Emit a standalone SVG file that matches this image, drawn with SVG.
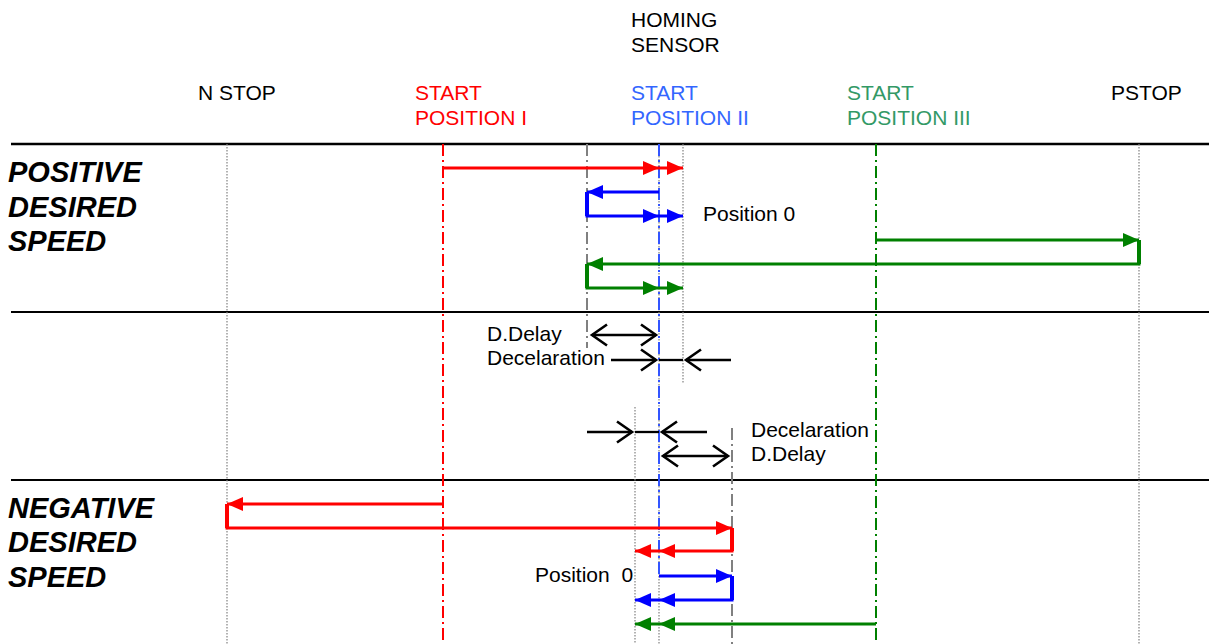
<svg xmlns="http://www.w3.org/2000/svg" width="1209" height="644" viewBox="0 0 1209 644">
<style>
text{font-family:"Liberation Sans",Arial,sans-serif;font-size:21px;fill:#000}
.big{font-size:29px;font-weight:bold;font-style:italic}
.red{fill:#ff0000}.blu{fill:#3366ff}.grn{fill:#339966}
.sep{stroke:#000;fill:none}
.dot{stroke:#808080;stroke-width:1.2;stroke-dasharray:1.5,1.5;fill:none}
.dd{stroke-width:2;stroke-dasharray:12,4,2,4;fill:none}
.ar{fill:none;stroke-width:3}
.v{fill:none;stroke-width:4}
.r{stroke:#ff0000}.b{stroke:#0000ff}.g{stroke:#008000}
.k{stroke:#000;stroke-width:2.3;fill:none}
</style>
<defs>
<marker id="mr" markerUnits="userSpaceOnUse" markerWidth="17" markerHeight="15" refX="16" refY="7.5" orient="auto"><path d="M0,0.5L16,7.5L0,14.5z" fill="#ff0000"/></marker>
<marker id="mb" markerUnits="userSpaceOnUse" markerWidth="17" markerHeight="15" refX="16" refY="7.5" orient="auto"><path d="M0,0.5L16,7.5L0,14.5z" fill="#0000ff"/></marker>
<marker id="mg" markerUnits="userSpaceOnUse" markerWidth="17" markerHeight="15" refX="16" refY="7.5" orient="auto"><path d="M0,0.5L16,7.5L0,14.5z" fill="#008000"/></marker>
<marker id="mk" markerUnits="userSpaceOnUse" markerWidth="20" markerHeight="26" refX="16" refY="13" orient="auto-start-reverse"><path d="M1,2.5L16,13L1,23.5" fill="none" stroke="#000" stroke-width="2.6"/></marker>
</defs>

<g id="labels">
<text x="631" y="27">HOMING</text>
<text x="631" y="52">SENSOR</text>
<text x="198" y="100">N STOP</text>
<text class="red" x="415" y="100">START</text>
<text class="red" x="415" y="125">POSITION I</text>
<text class="blu" x="631" y="100">START</text>
<text class="blu" x="631" y="125">POSITION II</text>
<text class="grn" x="847" y="100">START</text>
<text class="grn" x="847" y="125">POSITION III</text>
<text x="1111" y="100">PSTOP</text>
<text class="big" x="8" y="182">POSITIVE</text>
<text class="big" x="8" y="217">DESIRED</text>
<text class="big" x="8" y="251">SPEED</text>
<text class="big" x="8" y="518">NEGATIVE</text>
<text class="big" x="8" y="552">DESIRED</text>
<text class="big" x="8" y="587">SPEED</text>
<text x="703" y="221">Position 0</text>
<text x="487" y="341">D.Delay</text>
<text x="487" y="365">Decelaration</text>
<text x="751" y="437">Decelaration</text>
<text x="751" y="461">D.Delay</text>
<text x="535" y="582" xml:space="preserve">Position  0</text>
</g>

<g id="separators">
<path class="sep" stroke-width="2.5" d="M11,144H1209"/>
<path class="sep" stroke-width="2" d="M11,312H1209"/>
<path class="sep" stroke-width="2" d="M11,480H1209"/>
</g>

<g id="markers-lines">
<path class="dot" d="M227,144V644"/>
<path class="dot" d="M659,144V644"/>
<path class="dot" d="M683,144V384"/>
<path class="dot" d="M635,407V644"/>
<path class="dot" d="M1139,144V644"/>
<path class="dd" stroke="#ff0000" d="M443,144V644"/>
<path class="dd" stroke="#808080" d="M587,144V348"/>
<path class="dd" stroke="#3355ff" stroke-width="2" d="M659,144V576"/>
<path class="dd" stroke="#808080" d="M732,428V644"/>
<path class="dd" stroke="#008000" d="M876,144V644"/>
</g>

<g id="connectors">
<path class="ar r" d="M443,168H659" marker-end="url(#mr)"/>
<path class="ar r" d="M659,168H683" marker-end="url(#mr)"/>
<path class="ar b" d="M659,192H587" marker-end="url(#mb)"/>
<path class="ar b" d="M587,192V216H659" marker-end="url(#mb)"/>
<path class="v b" d="M587,192V216"/>
<path class="ar b" d="M659,216H683" marker-end="url(#mb)"/>
<path class="ar g" d="M876,240H1139" marker-end="url(#mg)"/>
<path class="ar g" d="M1139,240V264H587" marker-end="url(#mg)"/>
<path class="v g" d="M1139,240V264"/>
<path class="ar g" d="M587,264V288H659" marker-end="url(#mg)"/>
<path class="v g" d="M587,264V288"/>
<path class="ar g" d="M659,288H683" marker-end="url(#mg)"/>

<path class="k" d="M592,335H656" marker-start="url(#mk)" marker-end="url(#mk)"/>
<path class="k" d="M611,360H656" marker-end="url(#mk)"/>
<path class="k" stroke-width="1.5" d="M659,360H683"/>
<path class="k" d="M731,360H686" marker-end="url(#mk)"/>
<path class="k" d="M587,432H632" marker-end="url(#mk)"/>
<path class="k" stroke-width="1.5" d="M635,432H659"/>
<path class="k" d="M707,432H662" marker-end="url(#mk)"/>
<path class="k" d="M663,456H728" marker-start="url(#mk)" marker-end="url(#mk)"/>

<path class="ar r" d="M443,504H227" marker-end="url(#mr)"/>
<path class="ar r" d="M227,504V528H732" marker-end="url(#mr)"/>
<path class="v r" d="M227,504V528"/>
<path class="ar r" d="M732,528V551H659" marker-end="url(#mr)"/>
<path class="v r" d="M732,528V551"/>
<path class="ar r" d="M659,551H635" marker-end="url(#mr)"/>
<path class="ar b" d="M659,576H732" marker-end="url(#mb)"/>
<path class="ar b" d="M732,576V600H659" marker-end="url(#mb)"/>
<path class="v b" d="M732,576V600"/>
<path class="ar b" d="M659,600H635" marker-end="url(#mb)"/>
<path class="ar g" d="M876,624H659" marker-end="url(#mg)"/>
<path class="ar g" d="M659,624H635" marker-end="url(#mg)"/>
</g>
</svg>
